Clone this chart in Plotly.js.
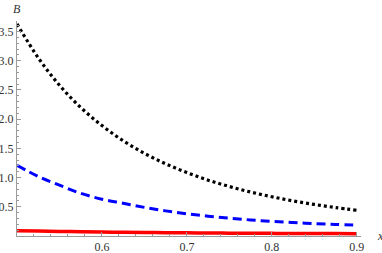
<!DOCTYPE html>
<html><head><meta charset="utf-8">
<script src="https://cdn.plot.ly/plotly-3.0.1.min.js"></script>
<style>html,body{margin:0;padding:0;background:#fff}#chart{width:382px;height:253px}</style>
</head><body><div id="chart"></div>
<script>
const xs = [0.5,0.525,0.55,0.575,0.6,0.625,0.65,0.675,0.7,0.725,0.75,0.775,0.8,0.825,0.85,0.875,0.9];
const blackB = [3.63,3.05,2.58,2.20,1.89,1.63,1.415,1.236,1.085,0.956,0.847,0.753,0.672,0.601,0.540,0.487,0.44];
const blueB = [1.21,1.02,0.87,0.73,0.63,0.56,0.49,0.43,0.38,0.34,0.305,0.275,0.25,0.23,0.212,0.197,0.185];
const redB = [0.09,0.084,0.078,0.073,0.068,0.064,0.06,0.057,0.054,0.051,0.049,0.047,0.045,0.043,0.042,0.041,0.04];
const xTicks = [0.6,0.7,0.8,0.9];
const yTicks = [0.5,1.0,1.5,2.0,2.5,3.0,3.5];

const serif = 'Liberation Serif';
const traces = [
  {x: xs, y: redB, mode:'lines', line:{color:'#ff0000', width:3.5, shape:'spline'}, hoverinfo:'skip'},
  {x: xs, y: blueB, mode:'lines', line:{color:'#0000ff', width:3, dash:'9px,5px', shape:'spline'}, hoverinfo:'skip'},
  {x: xs, y: blackB, mode:'lines', line:{color:'#000000', width:3.2, dash:'3px,3px', shape:'spline'}, hoverinfo:'skip'}
];
const axisCol = '#9a9a9a';
const tf = {family:serif, size:12, color:'#333'};
const layout = {
  width:382, height:253,
  margin:{l:17, r:21, t:21, b:17},
  paper_bgcolor:'#fff', plot_bgcolor:'#fff',
  showlegend:false,
  font:tf,
  xaxis:{range:[0.5,0.905], showgrid:false, zeroline:false, showline:true, linecolor:axisCol, linewidth:1,
    tickvals:xTicks, ticktext:xTicks.map(v=>v.toFixed(1)), ticks:'inside', ticklen:4, tickcolor:axisCol,
    minor:{dtick:0.02, ticks:'inside', ticklen:2, tickcolor:axisCol}, tickfont:tf},
  yaxis:{range:[0,3.68], showgrid:false, zeroline:false, showline:true, linecolor:axisCol, linewidth:1,
    tickvals:yTicks, ticktext:yTicks.map(v=>v.toFixed(1)), ticks:'inside', ticklen:4, tickcolor:axisCol,
    minor:{dtick:0.1, ticks:'inside', ticklen:2, tickcolor:axisCol}, tickfont:tf},
  annotations:[
    {xref:'paper', yref:'paper', x:0, y:1, xanchor:'center', yanchor:'bottom', yshift:3, showarrow:false,
      text:'<i>B</i>', font:tf},
    {xref:'paper', yref:'paper', x:1, y:0, xanchor:'left', yanchor:'middle', xshift:14, showarrow:false,
      text:'<i>x</i>', font:tf}
  ]
};
Plotly.newPlot('chart', traces, layout, {staticPlot:true, displayModeBar:false});
</script></body></html>
